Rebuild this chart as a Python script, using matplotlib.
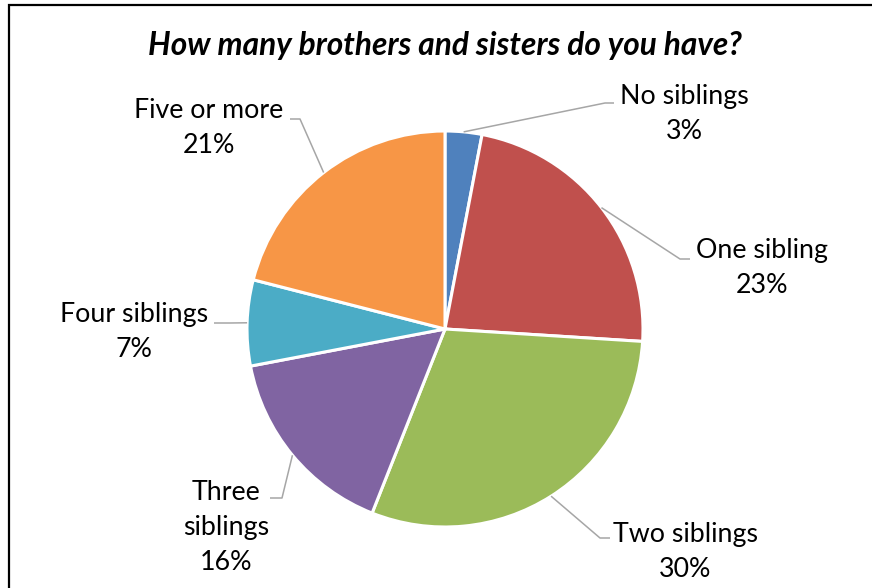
import numpy as np
import matplotlib
matplotlib.use("Agg")
from matplotlib import pyplot as plt

# data
categories = ["No siblings", "One sibling", "Two siblings", "Three\nsiblings", "Four siblings", "Five or more"]
shares = [3, 23, 30, 16, 7, 21]
colors = ["#4F81BD", "#C0504D", "#9BBB59", "#8064A2", "#4BACC6", "#F79646"]
title = "How many brothers and sisters do you have?"

# layout, in figure pixels (y from top)
W, H = 872, 588
center = (445, 329)
radius = 198
# (label centre x, label centre y, elbow x, elbow y, end x)
label_layout = [
    (684, 114, 605, 103, 614),
    (762, 268, 680, 259, 690),
    (685, 552, 600, 538, 610),
    (226, 527, 282, 498, 270),
    (134, 332, 230, 323, 214),
    (209, 128, 300, 119, 290),
]

plt.rcParams['font.family'] = ['Lato', 'DejaVu Sans']

fig = plt.figure(figsize=(W / 100, H / 100), dpi=100)
ax = fig.add_axes([0, 0, 1, 1])

def fy(y):
    # flip pixel y to data y
    return H - y

wedges, _ = ax.pie(shares, colors=colors, startangle=90, counterclock=False,
                   center=(center[0], fy(center[1])), radius=radius,
                   wedgeprops=dict(edgecolor="white", linewidth=2.2), frame=True)
ax.set_xlim(0, W)
ax.set_ylim(0, H)
ax.axis("off")

# leader lines + labels
total = sum(shares)
cum = 0
for cat, val, (lx, ly, ex, ey, endx) in zip(categories, shares, label_layout):
    mid = 90 - 360 * (cum + val / 2) / total
    cum += val
    sx = center[0] + radius * np.cos(np.radians(mid))
    sy = fy(center[1]) + radius * np.sin(np.radians(mid))
    ax.plot([sx, ex, endx], [sy, fy(ey), fy(ey)], color="#A6A6A6", lw=1.1,
            solid_capstyle="butt")
    ax.text(lx, fy(ly), f"{cat}\n{val}%", ha="center", va="center",
            fontsize=19.3, linespacing=1.5, color="black")

ax.text(445, fy(45), title, ha="center", va="center", fontsize=22.8,
        fontweight="bold", fontstyle="italic")

# chart frame (left and top edges visible)
ax.plot([9, 9, W + 5], [-5, fy(5), fy(5)], color="black", lw=1.6,
        solid_joinstyle="miter", clip_on=False)

fig.savefig("out.png", dpi=100)
